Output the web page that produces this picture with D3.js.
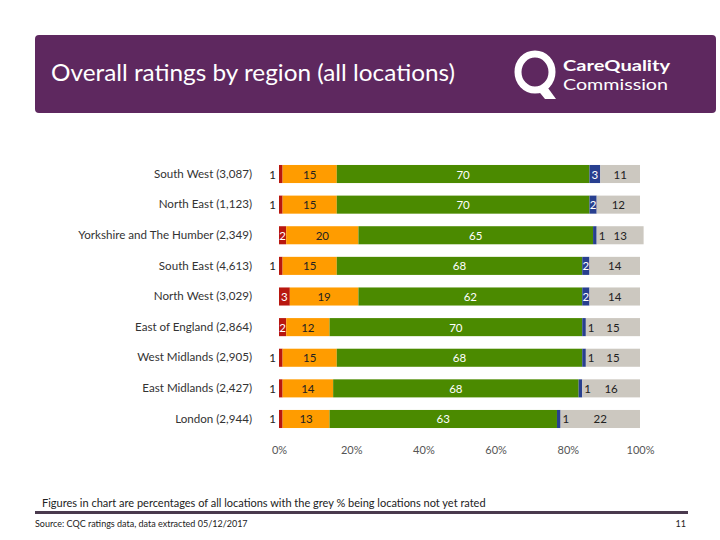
<!DOCTYPE html>
<html>
<head>
<meta charset="utf-8">
<script src="https://cdn.jsdelivr.net/npm/d3@7"></script>
<style>
  html, body { margin: 0; padding: 0; background: #fff; }
  svg { display: block; }
</style>
</head>
<body>
<svg id="chart" width="720" height="540"></svg>
<script>
const title = "Overall ratings by region (all locations)";
const regions = [
  "South West (3,087)",
  "North East (1,123)",
  "Yorkshire and The Humber (2,349)",
  "South East (4,613)",
  "North West (3,029)",
  "East of England (2,864)",
  "West Midlands (2,905)",
  "East Midlands (2,427)",
  "London (2,944)"
];
const ratingKeys = ["Inadequate", "Requires improvement", "Good", "Outstanding", "Not yet rated"];
const inadequate  = [1, 1, 2, 1, 3, 2, 1, 1, 1];
const requiresImp = [15, 15, 20, 15, 19, 12, 15, 14, 13];
const good        = [70, 70, 65, 68, 62, 70, 68, 68, 63];
const outstanding = [3, 2, 1, 2, 2, 1, 1, 1, 1];
const notRated    = [11, 12, 13, 14, 14, 15, 15, 16, 22];
const tickValues  = [0, 20, 40, 60, 80, 100];
const footnote = "Figures in chart are percentages of all locations with the grey % being locations not yet rated";
const source = "Source: CQC ratings data, data extracted 05/12/2017";
const pageNum = "11";

const colors = {
  "Inadequate": "#b8170f",
  "Requires improvement": "#ff9c00",
  "Good": "#4b8a00",
  "Outstanding": "#283f8f",
  "Not yet rated": "#ccc8c0"
};
const labelColors = {
  "Inadequate": "#ffffff",
  "Requires improvement": "#222222",
  "Good": "#ffffff",
  "Outstanding": "#ffffff",
  "Not yet rated": "#222222"
};

const table = regions.map((r, i) => ({
  region: r,
  "Inadequate": inadequate[i],
  "Requires improvement": requiresImp[i],
  "Good": good[i],
  "Outstanding": outstanding[i],
  "Not yet rated": notRated[i]
}));

const svg = d3.select("#chart");
const font = "Lato, 'Open Sans', sans-serif";

// Header
svg.append("rect").attr("x", 35).attr("y", 35).attr("width", 681).attr("height", 78)
  .attr("rx", 4).attr("fill", "#5e285f");
svg.append("text").attr("x", 51).attr("y", 81).attr("fill", "#fff")
  .attr("font-family", font).attr("font-size", 23)
  .attr("textLength", 404).attr("lengthAdjust", "spacingAndGlyphs").text(title);

// Logo
const logo = svg.append("g");
logo.append("ellipse").attr("cx", 535).attr("cy", 72).attr("rx", 17).attr("ry", 18)
  .attr("fill", "none").attr("stroke", "#fff").attr("stroke-width", 7);
logo.append("path").attr("d", "M536,88 L548,88 L556,99 L545,99 Z").attr("fill", "#fff");
logo.append("text").attr("x", 563).attr("y", 71).attr("fill", "#fff")
  .attr("font-family", font).attr("font-weight", "bold").attr("font-size", 16)
  .attr("textLength", 107).attr("lengthAdjust", "spacingAndGlyphs").text("CareQuality");
logo.append("text").attr("x", 563).attr("y", 90).attr("fill", "#fff")
  .attr("font-family", font).attr("font-size", 16)
  .attr("textLength", 105).attr("lengthAdjust", "spacingAndGlyphs").text("Commission");

// Scales
const x = d3.scaleLinear().domain([0, 100]).range([279, 640]);
const y = d3.scaleBand().domain(regions).range([158.7, 434.3])
  .paddingInner(0.41).paddingOuter(0.205);

const stack = d3.stack().keys(ratingKeys);
const series = stack(table);

const g = svg.append("g");
series.forEach(s => {
  const key = s.key;
  g.selectAll(null).data(s).join("rect")
    .attr("x", d => x(d[0]))
    .attr("y", d => y(d.data.region))
    .attr("width", d => x(d[1]) - x(d[0]))
    .attr("height", y.bandwidth())
    .attr("fill", colors[key]);
});

// Labels
series.forEach(s => {
  const key = s.key;
  g.selectAll(null).data(s).join("text")
    .attr("font-family", font).attr("font-size", 11.5)
    .attr("dominant-baseline", "central")
    .attr("y", d => y(d.data.region) + y.bandwidth() / 2)
    .each(function(d) {
      const v = d[1] - d[0];
      const sel = d3.select(this).text(v);
      if (key === "Inadequate" && v < 2) {
        sel.attr("x", x(d[0]) - 3).attr("text-anchor", "end").attr("fill", "#222");
      } else if (key === "Outstanding" && v < 2) {
        sel.attr("x", x(d[1]) + 2).attr("text-anchor", "start").attr("fill", "#222");
      } else {
        sel.attr("x", (x(d[0]) + x(d[1])) / 2).attr("text-anchor", "middle")
          .attr("fill", labelColors[key]);
      }
    });
});

// Category axis labels
const yAxis = d3.axisLeft(y).tickSize(0).tickPadding(0);
const ya = svg.append("g").attr("transform", "translate(252,0)").call(yAxis);
ya.select(".domain").remove();
ya.selectAll("text").attr("font-family", font).attr("font-size", 11.6).attr("fill", "#333");

// X axis
const xAxis = d3.axisBottom(x).tickValues(tickValues).tickSize(0).tickPadding(0)
  .tickFormat(d => d + "%");
const xa = svg.append("g").attr("transform", "translate(0,446)").call(xAxis);
xa.select(".domain").remove();
xa.selectAll("text").attr("font-family", font).attr("font-size", 11).attr("fill", "#555");

// Footer
svg.append("text").attr("x", 42).attr("y", 507).attr("font-family", font)
  .attr("font-size", 11).attr("fill", "#222").text(footnote);
svg.append("line").attr("x1", 35).attr("x2", 688).attr("y1", 512.5).attr("y2", 512.5)
  .attr("stroke", "#4a3a4e").attr("stroke-width", 3);
svg.append("text").attr("x", 35).attr("y", 527).attr("font-family", font)
  .attr("font-size", 9).attr("fill", "#222").text(source);
svg.append("text").attr("x", 686).attr("y", 527).attr("text-anchor", "end").attr("font-family", font)
  .attr("font-size", 9).attr("fill", "#222").text(pageNum);
</script>
</body>
</html>
